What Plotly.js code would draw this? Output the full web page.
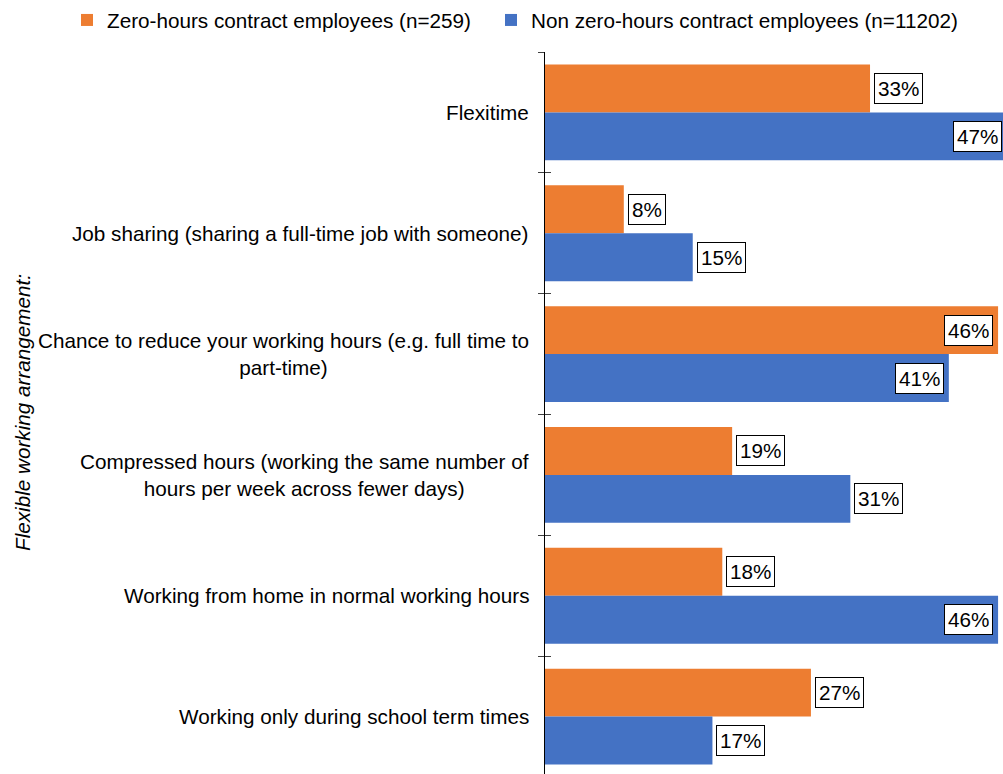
<!DOCTYPE html>
<html><head><meta charset="utf-8">
<script src="https://cdn.plot.ly/plotly-3.0.1.min.js"></script>
<style>html,body{margin:0;padding:0;background:#fff;overflow:hidden}</style>
</head><body><div id="chart" style="width:1003px;height:774px"></div>
<script>
const categories = [
  "Flexitime",
  "Job sharing (sharing a full-time job with someone)",
  "Chance to reduce your working hours (e.g. full time to<br>part-time)",
  "Compressed hours (working the same number of<br>hours per week across fewer days)",
  "Working from home in normal working hours",
  "Working only during school term times"
];
const zeroHoursValues = [33, 8, 46, 19, 18, 27];
const nonZeroHoursValues = [47, 15, 41, 31, 46, 17];
const seriesNames = [
  "Zero-hours contract employees (n=259)",
  "Non zero-hours contract employees (n=11202)"
];
const axisTitle = "Flexible working arrangement:";

const FONT = "Liberation Sans, Arial, sans-serif";
const FS = 20.7;
const colors = ["#ED7D31", "#4472C4"];
const xMax = 46.5;
const bargap = 0.207;
const half = (1 - bargap) / 4;

const traces = [
  {type: "bar", orientation: "h", name: seriesNames[0], y: categories, x: zeroHoursValues,
   marker: {color: colors[0]}, hoverinfo: "skip", legend: "legend"},
  {type: "bar", orientation: "h", name: seriesNames[1], y: categories, x: nonZeroHoursValues,
   marker: {color: colors[1]}, hoverinfo: "skip", legend: "legend2"},
  {type: "scatter", mode: "markers", y: categories, x: categories.map(() => 0), yaxis: "y2",
   marker: {opacity: 0}, showlegend: false, hoverinfo: "skip"}
];

const annotations = [];
[zeroHoursValues, nonZeroHoursValues].forEach((vals, s) => {
  const off = s === 0 ? -half : half;
  vals.forEach((v, i) => {
    const inside = v >= 40;
    annotations.push({
      x: Math.min(v, xMax), y: i + off, xref: "x", yref: "y",
      text: v.toFixed(0) + "%", showarrow: false,
      xanchor: inside ? "right" : "left", yanchor: "middle",
      xshift: inside ? (v > xMax ? -1 : -5) : 4,
      bgcolor: "#ffffff", bordercolor: "#000000", borderwidth: 1, borderpad: 3,
      font: {family: FONT, size: FS, color: "#000"}
    });
  });
});
categories.forEach((c, i) => {
  annotations.push({
    x: 0, y: i, xref: "paper", yref: "y", text: c, showarrow: false,
    xanchor: "right", yanchor: "middle", align: "center", xshift: -14,
    font: {family: FONT, size: FS, color: "#000"}
  });
});
annotations.push({
  x: 0, y: 0.5, xref: "paper", yref: "paper", text: "<i>" + axisTitle + "</i>",
  showarrow: false, textangle: -90, xanchor: "center", yanchor: "middle", xshift: -523,
  yshift: 0, font: {family: FONT, size: FS, color: "#000"}
});

const legendBase = {orientation: "h", xanchor: "left", y: 1 + (51 - 19) / 723, yanchor: "middle",
  font: {family: FONT, size: FS, color: "#000"}, bgcolor: "rgba(0,0,0,0)"};

const layout = {
  width: 1003, height: 774,
  margin: {l: 545, r: 0, t: 51, b: 0, pad: 0},
  paper_bgcolor: "#fff", plot_bgcolor: "#fff",
  barmode: "group", bargap: bargap, bargroupgap: 0,
  showlegend: true,
  legend: Object.assign({}, legendBase, {x: (67 - 545) / 458}),
  legend2: Object.assign({}, legendBase, {x: (491 - 545) / 458}),
  xaxis: {range: [0, xMax], showgrid: false, zeroline: false, showticklabels: false, showline: false, ticks: "", fixedrange: true},
  yaxis: {type: "category", range: [5.475, -0.5], showgrid: false, zeroline: false, showticklabels: false,
    showline: true, linecolor: "#000", linewidth: 1, ticks: "outside", ticklen: 6, tickwidth: 1,
    tickcolor: "#404040", tickson: "boundaries"},
  yaxis2: {type: "category", overlaying: "y", matches: "y", side: "left", anchor: "x", showgrid: false,
    zeroline: false, showticklabels: false, showline: false, ticks: "inside", ticklen: 6, tickwidth: 1,
    tickcolor: "#404040", tickson: "boundaries"},
  annotations: annotations,
  font: {family: FONT, size: FS, color: "#000"}
};

Plotly.newPlot("chart", traces, layout, {displayModeBar: false, staticPlot: true});
</script></body></html>
